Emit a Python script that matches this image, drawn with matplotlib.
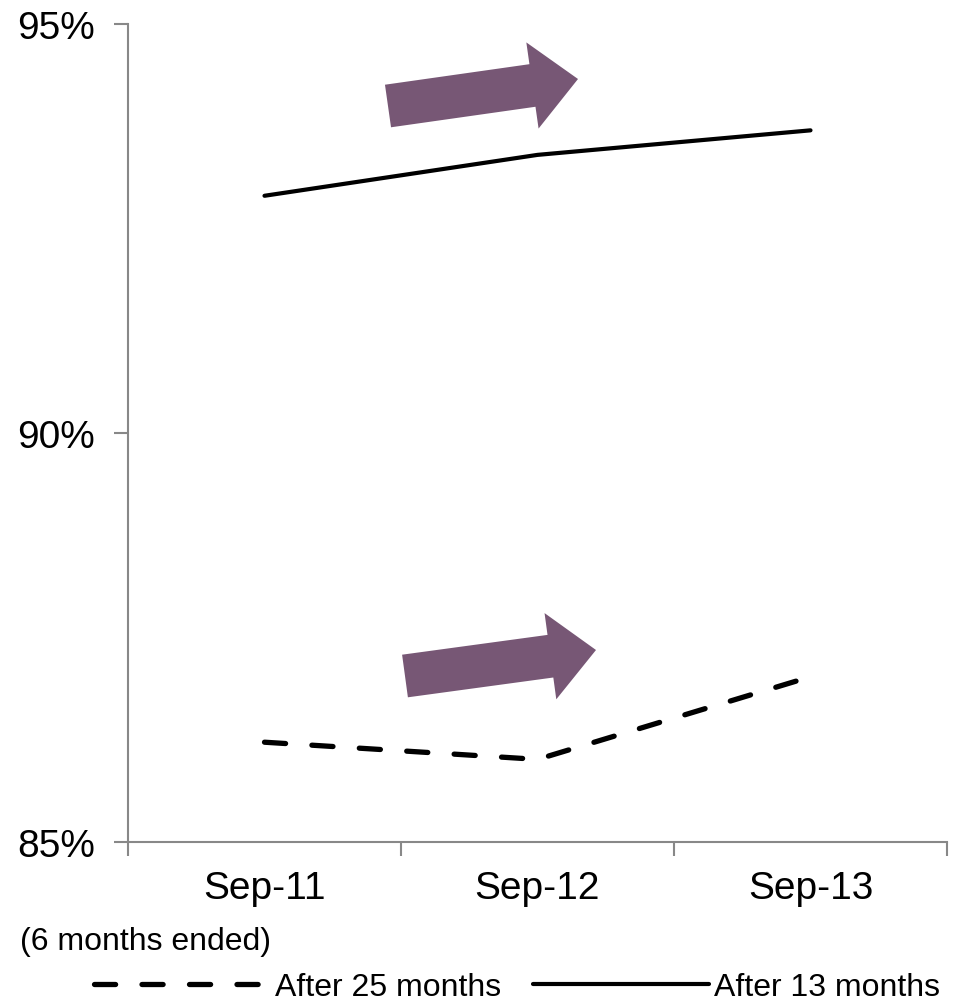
import matplotlib
matplotlib.use("Agg")
import matplotlib.pyplot as plt
from matplotlib.patches import FancyArrow
from matplotlib.transforms import IdentityTransform
import numpy as np

# data
periods = ["Sep-11", "Sep-12", "Sep-13"]
after_25 = [86.22, 86.01, 87.02]
after_13 = [92.90, 93.40, 93.70]
y_ticks = [85, 90, 95]

plt.rcParams["font.family"] = ["Liberation Sans", "DejaVu Sans"]

W, H, DPI = 957, 1003, 100
fig = plt.figure(figsize=(W / DPI, H / DPI), dpi=DPI)
ax = fig.add_axes([128 / W, 1 - 843 / H, (947 - 128) / W, (843 - 25) / H])

x = np.arange(len(periods))
ax.plot(x, after_25, color="black", lw=3.8, ls=(0, (4, 5)),
        dash_capstyle="round", solid_capstyle="round", label="After 25 months")
ax.plot(x, after_13, color="black", lw=3.0, solid_capstyle="round",
        label="After 13 months")

ax.set_xlim(-0.5, len(periods) - 0.5)
ax.set_ylim(85, 95)
ax.set_yticks(y_ticks)
ax.set_yticklabels([f"{v}%" for v in y_ticks])
ax.set_xticks(x)
ax.set_xticklabels(periods)
ax.set_xticks(np.arange(-0.5, len(periods)), minor=True)
ax.tick_params(axis="x", which="major", length=0, pad=20, labelsize=28)
ax.tick_params(axis="x", which="minor", length=10, width=1.5, color="#888888")
ax.tick_params(axis="y", length=10, width=1.5, color="#888888", labelsize=28, pad=14)

for side in ("top", "right"):
    ax.spines[side].set_visible(False)
for side in ("left", "bottom"):
    ax.spines[side].set_color("#888888")
    ax.spines[side].set_linewidth(1.5)

# purple trend arrows, drawn in pixel coordinates
purple = "#775775"
for (tx, ty), (hx, hy) in [((388, 107), (578, 80)), ((405, 677), (596, 651))]:
    arr = FancyArrow(tx, H - ty, hx - tx, -(hy - ty), width=43, head_width=87,
                     head_length=46, length_includes_head=True,
                     color=purple, lw=0, transform=IdentityTransform())
    fig.patches.append(arr)

fig.text(20 / W, 1 - 942 / H, "(6 months ended)", fontsize=23, va="center")

fig.legend(loc="center", bbox_to_anchor=(517 / W, 1 - 988 / H), ncol=2,
           frameon=False, fontsize=23, handlelength=5.5, handletextpad=0.15,
           columnspacing=1.0, borderpad=0, borderaxespad=0)

fig.savefig("out.png", dpi=DPI)
